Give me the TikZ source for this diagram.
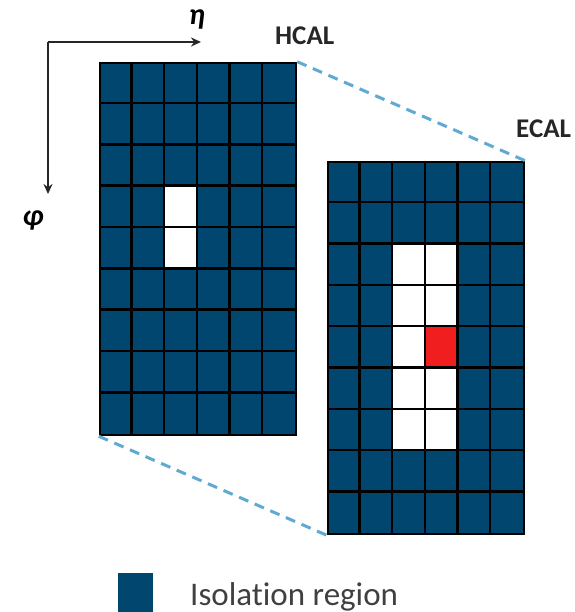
\documentclass[tikz,border=0pt]{standalone}
\usepackage{fontspec}
\setmainfont[Ligatures=NoCommon]{Carlito}
\usetikzlibrary{arrows.meta,positioning}
\definecolor{isoblue}{RGB}{0,70,110}
\definecolor{linkblue}{RGB}{95,170,210}
\definecolor{hitred}{RGB}{240,30,30}

\begin{document}
\begin{tikzpicture}[x=1pt,y=-1pt,
    calo/.style={
         rectangle
        , draw=black
        , line width=2.5pt
        , fill=isoblue
        , inner sep=0pt
        , minimum width=196pt
        , minimum height=372pt
    },
    tag/.style={anchor=base west, inner sep=0pt, text=black!85,
      font=\bfseries\fontsize{27}{27}\selectfont},
    axis/.style={-{Stealth[length=10pt,width=9pt]}, line width=2.2pt, black!85},
    link/.style={dash pattern=on 10pt off 7pt, line width=3pt, linkblue},
    cellline/.style={line width=2.5pt, black}
    ]
    \useasboundingbox (0,0) rectangle (574,612);

    % the two calorimeter towers
    \node[calo] (hcal) at (198,249) {};
    \node[calo] (ecal) at (426,348) {};

    \draw[link] (hcal.north east) -- (ecal.north east);
    \draw[link] (hcal.south west) -- (ecal.south west);

    \begin{scope}[shift={(hcal.north west)}, x=32.667pt, y=-41.333pt]
        \fill[white] (2,3) rectangle (3,5);
        \foreach \i in {1,...,5} \draw[cellline] (\i,0) -- (\i,9);
        \foreach \j in {1,...,8} \draw[cellline] (0,\j) -- (6,\j);
    \end{scope}

    \begin{scope}[shift={(ecal.north west)}, x=32.667pt, y=-41.333pt]
        \fill[white] (2,2) rectangle (4,7);
        \fill[hitred] (3,4) rectangle (4,5);
        \foreach \i in {1,...,5} \draw[cellline] (\i,0) -- (\i,9);
        \foreach \j in {1,...,8} \draw[cellline] (0,\j) -- (6,\j);
    \end{scope}

    \node[tag] (hcaltag) at (275,45) {HCAL};
    \node[tag] (ecaltag) at (516,138) {ECAL};

    % eta / phi axes
    \coordinate (origin) at (48,42);
    \coordinate (etatip) at (201,42);
    \coordinate (phitip) at (48,194);
    \node[font=\bfseries\itshape\fontsize{30}{30}\selectfont] (eta) at (197,19) {η};
    \node[font=\bfseries\itshape\fontsize{30}{30}\selectfont] (phi) at (33,220) {φ};
    \draw[axis] (phitip |- origin) -- (etatip);
    \draw[axis] (origin) -- (phitip);

    % legend
    \node[rectangle, fill=isoblue, inner sep=0pt, minimum width=35pt,
      minimum height=40pt, anchor=north west] (legend) at (118,573) {};
    \node[anchor=base west, inner sep=0pt, text=black!75,
      font=\fontsize{33}{33}\selectfont] (legendtext) at (190,605) {Isolation region};
\end{tikzpicture}
\end{document}
